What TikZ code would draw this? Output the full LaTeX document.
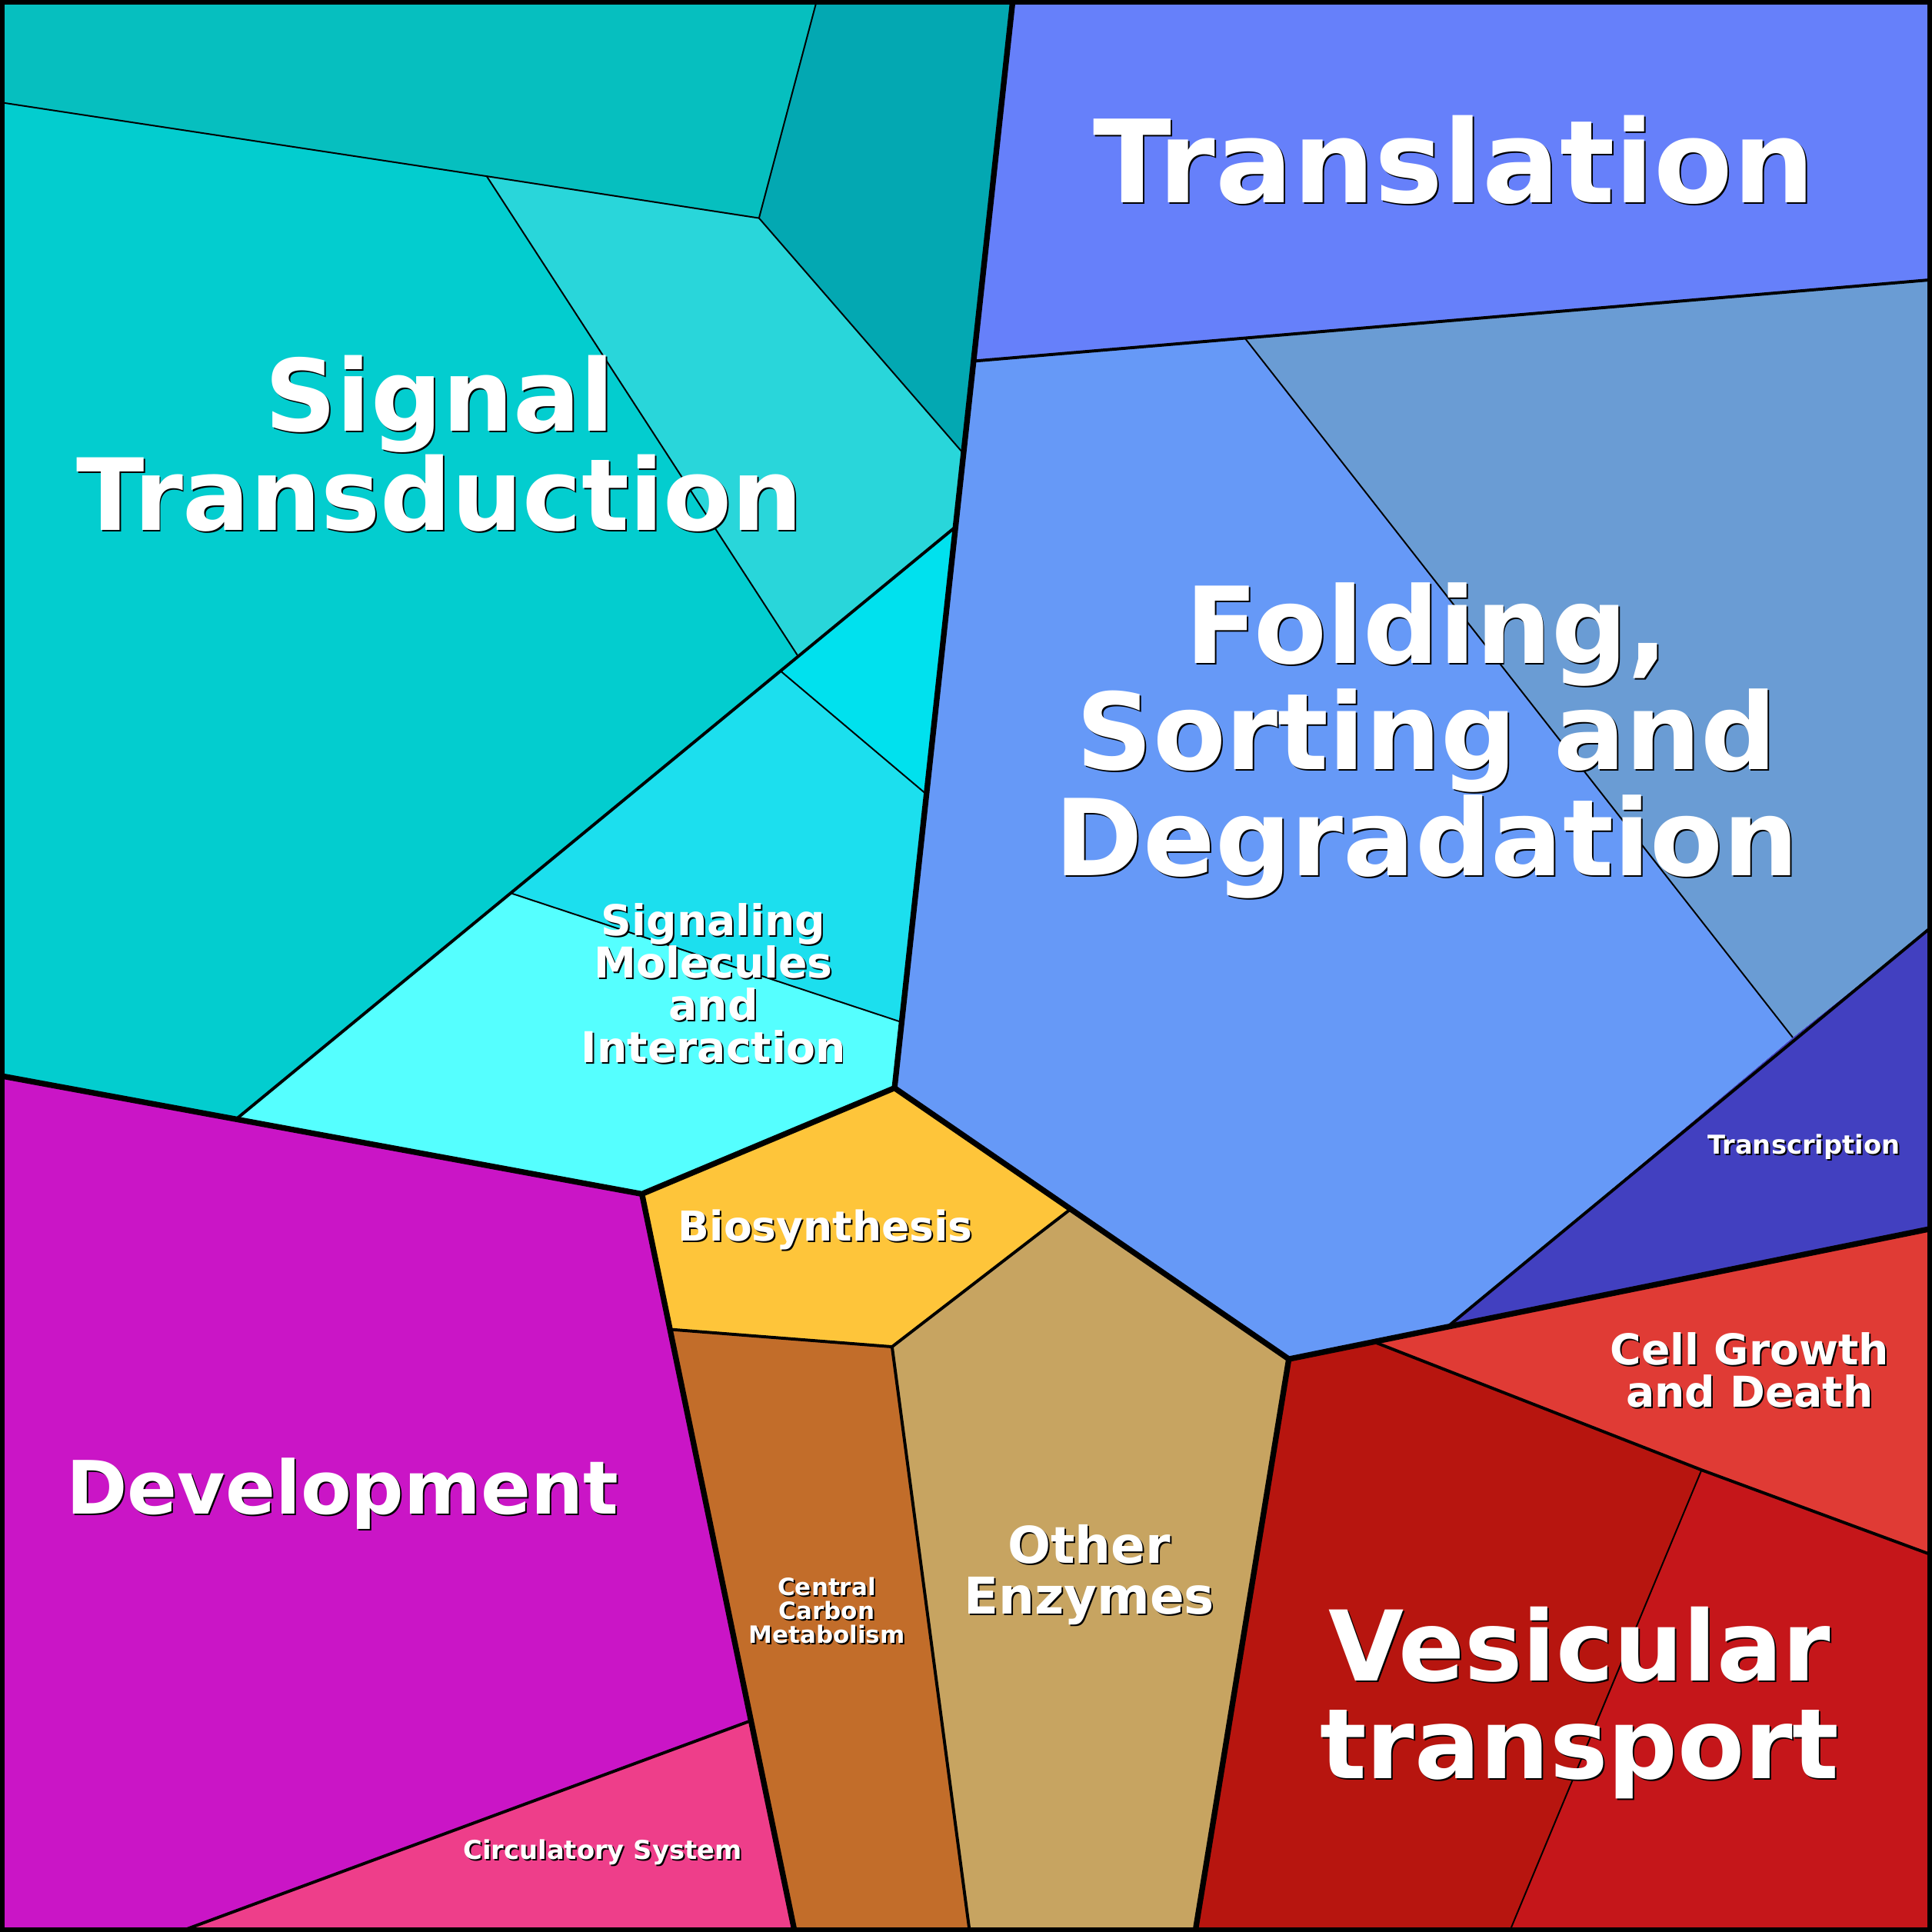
\documentclass[tikz,border=0pt]{standalone}
\usepackage{fontspec}
\setmainfont{DejaVu Sans}
\tikzset{
  cell/.style={draw=black,line width=0.35pt},
  thin edge/.style={line width=0.35pt},
  mid edge/.style={line width=0.7pt},
  thick edge/.style={line width=1.3pt},
  name shadow/.style={text=black,align=center,font=\bfseries,inner sep=0pt},
  name text/.style={text=white,align=center,font=\bfseries,inner sep=0pt},
}
% label with a dark drop shadow
\newcommand\cellname[4]{%
  \node[name shadow,font=\bfseries\fontsize{#3}{#3*1.05}\selectfont] (#1s) at ([xshift=0.35pt,yshift=-0.35pt]#2) {#4};
  \node[name text,font=\bfseries\fontsize{#3}{#3*1.05}\selectfont] (#1) at (#2) {#4};}
\definecolor{topstrip}{HTML}{06BFBF}
\definecolor{darkteal}{HTML}{03A8B2}
\definecolor{signal}{HTML}{03CDCF}
\definecolor{lightteal}{HTML}{29D6DA}
\definecolor{cyanA}{HTML}{00E1EE}
\definecolor{cyanB}{HTML}{1CDFEE}
\definecolor{molecules}{HTML}{55FFFF}
\definecolor{develop}{HTML}{CA15C6}
\definecolor{circul}{HTML}{EE3E8A}
\definecolor{biosyn}{HTML}{FEC53A}
\definecolor{carbon}{HTML}{C26D2A}
\definecolor{enzymes}{HTML}{C7A461}
\definecolor{vesA}{HTML}{B7150F}
\definecolor{vesB}{HTML}{C5161A}
\definecolor{growth}{HTML}{E03B35}
\definecolor{transcr}{HTML}{4240C0}
\definecolor{folding}{HTML}{6699F7}
\definecolor{foldingB}{HTML}{6A9CD4}
\definecolor{transl}{HTML}{6680FA}
\begin{document}
\begin{tikzpicture}[x=0.01cm,y=-0.01cm]
  \useasboundingbox (0,0) rectangle (1568,1568);

  % cells
  \fill[topstrip] (0,0) -- (663,0) -- (616,177) -- (395,143) -- (0,83) -- cycle;
  \fill[darkteal] (663,0) -- (822,0) -- (781,367) -- (616,177) -- cycle;
  \fill[signal] (0,83) -- (395,143) -- (648,533) -- (192,908) -- (0,873) -- cycle;
  \fill[lightteal] (395,143) -- (616,177) -- (781,367) -- (775,428) -- (648,533) -- cycle;
  \fill[cyanA] (648,533) -- (775,428) -- (750,643) -- (634,545) -- cycle;
  \fill[cyanB] (634,545) -- (750,643) -- (730,829) -- (415,725) -- cycle;
  \fill[molecules] (415,725) -- (730,829) -- (726,883) -- (521,969) -- (192,908) -- cycle;
  \fill[develop] (0,873) -- (521,969) -- (608,1397) -- (145,1568) -- (0,1568) -- cycle;
  \fill[circul] (608,1397) -- (645,1568) -- (145,1568) -- cycle;
  \fill[biosyn] (521,969) -- (726,883) -- (868,982) -- (724,1093) -- (545,1079) -- cycle;
  \fill[carbon] (545,1079) -- (724,1093) -- (787,1568) -- (645,1568) -- cycle;
  \fill[enzymes] (724,1093) -- (868,982) -- (1046,1103) -- (970,1568) -- (787,1568) -- cycle;
  \fill[vesA] (1046,1103) -- (1115,1089) -- (1381,1193) -- (1225,1568) -- (970,1568) -- cycle;
  \fill[vesB] (1381,1193) -- (1568,1262) -- (1568,1568) -- (1225,1568) -- cycle;
  \fill[growth] (1115,1089) -- (1177,1075) -- (1568,997) -- (1568,1262) -- (1381,1193) -- cycle;
  \fill[transcr] (1177,1075) -- (1455,842) -- (1568,752) -- (1568,997) -- cycle;
  \fill[foldingB] (1010,274) -- (1568,227) -- (1568,752) -- (1455,842) -- cycle;
  \fill[folding] (791,293) -- (1010,274) -- (1455,842) -- (1177,1075) -- (1046,1103) -- (868,982) -- (726,883) -- cycle;
  \fill[transl] (822,0) -- (1568,0) -- (1568,227) -- (791,293) -- cycle;

  % thin edges
  \draw[thin edge] (0,83) -- (395,143) -- (616,177) -- (663,0);
  \draw[thin edge] (616,177) -- (781,367);
  \draw[thin edge] (395,143) -- (648,533);
  \draw[thin edge] (634,545) -- (750,643);
  \draw[thin edge] (415,725) -- (730,829);
  \draw[thin edge] (1010,274) -- (1455,842);
  \draw[thin edge] (1381,1193) -- (1225,1568);

  % medium edges
  \draw[mid edge] (775,428) -- (192,908);
  \draw[mid edge] (545,1079) -- (724,1093) -- (868,982);
  \draw[mid edge] (724,1093) -- (787,1568);
  \draw[mid edge] (608,1397) -- (145,1568);
  \draw[mid edge] (1115,1089) -- (1381,1193) -- (1568,1262);
  \draw[mid edge] (1177,1075) -- (1568,752);
  \draw[mid edge] (791,293) -- (1568,227);

  % thick edges
  \draw[thick edge] (822,0) -- (726,883) -- (1046,1103) -- (1568,997);
  \draw[thick edge] (0,873) -- (521,969) -- (726,883);
  \draw[thick edge] (521,969) -- (645,1568);
  \draw[thick edge] (1046,1103) -- (970,1568);
  \draw[line width=2.2pt] (0,0) rectangle (1568,1568);

  % labels
  \cellname{translation}{1180,130}{26.5pt}{Translation}
  \cellname{signal}{357,360}{23pt}{Signal\\Transduction}
  \cellname{folding}{1158,601}{24.5pt}{Folding,\\Sorting and\\Degradation}
  \cellname{vesicular}{1282,1382}{22.5pt}{Vesicular\\transport}
  \cellname{development}{278,1212}{17pt}{Development}
  \cellname{molecules}{579,798}{9.8pt}{Signaling\\Molecules\\and\\Interaction}
  \cellname{biosynthesis}{670,998}{9.5pt}{Biosynthesis}
  \cellname{enzymes}{884,1278}{11.7pt}{Other\\Enzymes}
  \cellname{growth}{1420,1112}{9.8pt}{Cell Growth\\and Death}
  \cellname{transcription}{1464,931}{6pt}{Transcription}
  \cellname{carbon}{671,1307}{5.5pt}{Central\\Carbon\\Metabolism}
  \cellname{circulatory}{489,1503}{6pt}{Circulatory System}
\end{tikzpicture}
\end{document}
